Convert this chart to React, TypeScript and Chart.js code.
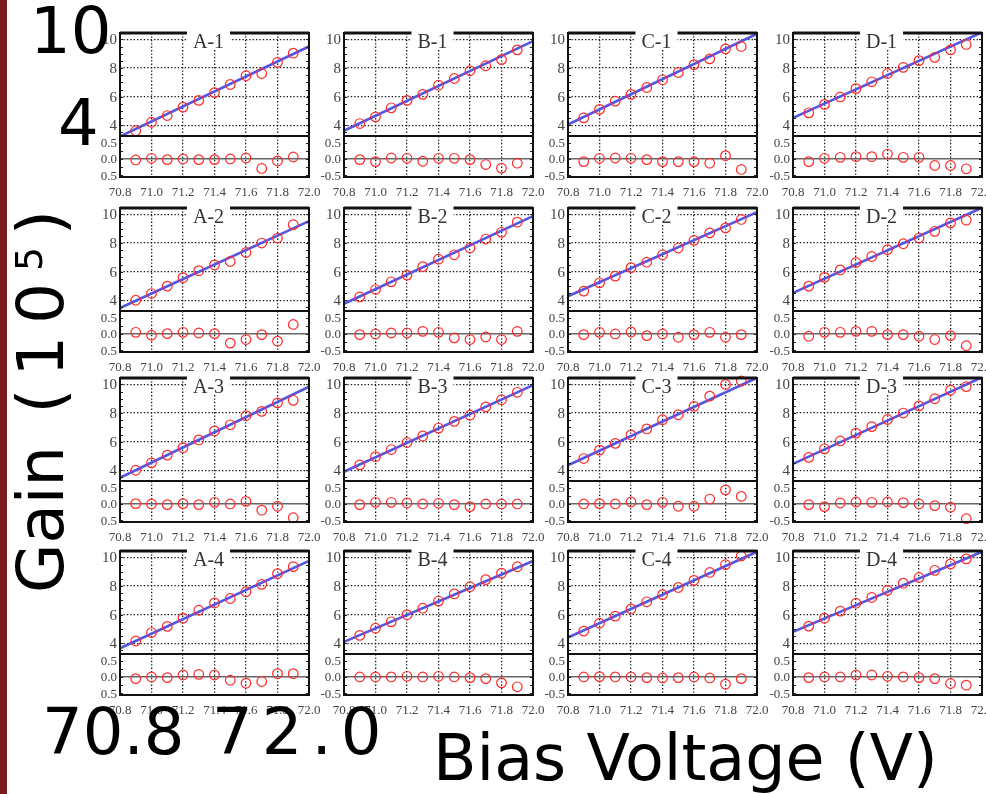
import React, { useEffect, useRef } from 'react';
import { Chart, registerables } from 'chart.js';

Chart.register(...registerables);

// ---------- data ----------
const VOLTAGES = [70.9, 71.0, 71.1, 71.2, 71.3, 71.4, 71.5, 71.6, 71.7, 71.8, 71.9];
const FIT_X = [70.8, 72.0];
const X_TICKS = [70.8, 71.0, 71.2, 71.4, 71.6, 71.8, 72.0];
const GAIN_TICKS = [4, 6, 8, 10];
const RESID_TICKS = [-0.5, 0.0, 0.5];
const GAIN_RANGE = [3.25, 10.45];
const RESID_RANGE = [-0.55, 0.7];
const PANEL_NAMES = ['A-1', 'B-1', 'C-1', 'D-1', 'A-2', 'B-2', 'C-2', 'D-2', 'A-3', 'B-3', 'C-3', 'D-3', 'A-4', 'B-4', 'C-4', 'D-4'];

const gainA1 = [3.62, 4.21, 4.68, 5.27, 5.74, 6.28, 6.85, 7.46, 7.62, 8.40, 9.04];
const residA1 = [-0.03, 0.02, -0.02, 0.0, -0.02, -0.02, 0.0, 0.03, -0.29, -0.06, 0.06];
const fitA1 = [3.22, 9.51];
const gainB1 = [4.12, 4.59, 5.22, 5.74, 6.16, 6.80, 7.27, 7.81, 8.16, 8.59, 9.27];
const residB1 = [-0.02, -0.08, 0.03, 0.02, -0.07, 0.02, 0.02, -0.02, -0.17, -0.28, -0.13];
const fitB1 = [3.62, 9.88];
const gainC1 = [4.52, 5.11, 5.69, 6.16, 6.64, 7.18, 7.69, 8.24, 8.64, 9.34, 9.51];
const residC1 = [-0.08, 0.02, 0.03, 0.02, -0.02, -0.08, -0.08, -0.08, -0.13, 0.10, -0.32];
const fitC1 = [4.05, 10.4];
const gainD1 = [4.87, 5.46, 5.98, 6.56, 7.04, 7.62, 8.05, 8.52, 8.75, 9.27, 9.65];
const residD1 = [-0.08, 0.02, 0.05, 0.07, 0.07, 0.15, 0.05, 0.05, -0.20, -0.20, -0.30];
const fitD1 = [4.52, 10.5];

const gainA2 = [4.0, 4.47, 4.99, 5.58, 6.07, 6.47, 6.71, 7.34, 8.0, 8.35, 9.29];
const residA2 = [0.05, -0.04, 0.01, 0.05, 0.03, 0.01, -0.28, -0.17, -0.02, -0.22, 0.29];
const fitA2 = [3.46, 9.53];
const gainB2 = [4.24, 4.75, 5.29, 5.76, 6.35, 6.87, 7.18, 7.65, 8.28, 8.75, 9.46];
const residB2 = [-0.02, 0.0, 0.03, 0.03, 0.08, 0.05, -0.12, -0.17, -0.09, -0.17, 0.08];
const fitB2 = [3.76, 9.88];
const gainC2 = [4.64, 5.22, 5.69, 6.28, 6.66, 7.18, 7.65, 8.19, 8.71, 9.06, 9.65];
const residC2 = [-0.02, 0.05, 0.0, 0.06, -0.05, 0.0, -0.10, -0.02, 0.05, -0.10, -0.02];
const fitC2 = [4.28, 10.16];
const gainD2 = [4.99, 5.6, 6.12, 6.64, 7.06, 7.53, 7.95, 8.35, 8.82, 9.41, 9.6];
const residD2 = [-0.07, 0.05, 0.05, 0.08, 0.08, -0.02, -0.02, -0.07, -0.17, -0.05, -0.36];
const fitD2 = [4.52, 10.47];

const gainA3 = [4.0, 4.52, 5.06, 5.58, 6.12, 6.75, 7.18, 7.81, 8.12, 8.71, 8.89];
const residA3 = [0.01, 0.0, -0.02, 0.01, -0.02, 0.05, 0.0, 0.08, -0.19, -0.07, -0.42];
const fitA3 = [3.48, 9.84];
const gainB3 = [4.38, 4.95, 5.45, 5.94, 6.4, 6.95, 7.42, 7.85, 8.43, 8.93, 9.45];
const residB3 = [-0.02, 0.05, 0.05, 0.03, 0.0, 0.02, -0.02, -0.08, 0.0, 0.0, 0.0];
const fitB3 = [3.9, 9.95];
const gainC3 = [4.82, 5.41, 5.88, 6.47, 6.89, 7.53, 7.88, 8.47, 9.18, 10.0, 10.24];
const residC3 = [0.0, 0.01, 0.0, 0.06, -0.02, 0.05, -0.07, -0.07, 0.15, 0.43, 0.23];
const fitC3 = [4.35, 10.47];
const gainD3 = [4.9, 5.5, 6.05, 6.6, 7.05, 7.55, 8.0, 8.5, 9.0, 9.6, 9.85];
const residD3 = [-0.02, -0.08, 0.03, 0.06, 0.05, 0.06, 0.04, 0.0, -0.05, -0.1, -0.45];
const fitD3 = [4.45, 10.5];

const gainA4 = [4.16, 4.75, 5.18, 5.76, 6.31, 6.82, 7.13, 7.6, 8.12, 8.87, 9.36];
const residA4 = [-0.05, 0.0, -0.02, 0.06, 0.08, 0.06, -0.10, -0.19, -0.14, 0.10, 0.10];
const fitA4 = [3.65, 9.76];
const gainB4 = [4.55, 5.05, 5.5, 6.0, 6.45, 6.95, 7.45, 7.95, 8.45, 8.9, 9.35];
const residB4 = [0.0, 0.0, 0.0, 0.02, 0.0, 0.02, 0.0, -0.02, -0.05, -0.18, -0.3];
const fitB4 = [4.1, 9.75];
const gainC4 = [4.85, 5.4, 5.9, 6.4, 6.9, 7.4, 7.9, 8.4, 8.95, 9.5, 10.1];
const residC4 = [0.0, 0.01, 0.0, 0.0, -0.02, -0.03, -0.02, 0.0, -0.03, -0.22, -0.05];
const fitC4 = [4.4, 10.4];
const gainD4 = [5.2, 5.75, 6.25, 6.8, 7.2, 7.7, 8.2, 8.6, 9.1, 9.55, 9.9];
const residD4 = [-0.02, 0.0, 0.0, 0.06, 0.06, 0.02, 0.0, -0.02, -0.05, -0.2, -0.25];
const fitD4 = [4.8, 10.4];

const GAINS = [gainA1, gainB1, gainC1, gainD1, gainA2, gainB2, gainC2, gainD2, gainA3, gainB3, gainC3, gainD3, gainA4, gainB4, gainC4, gainD4];
const RESIDS = [residA1, residB1, residC1, residD1, residA2, residB2, residC2, residD2, residA3, residB3, residC3, residD3, residA4, residB4, residC4, residD4];
const FITS = [fitA1, fitB1, fitC1, fitD1, fitA2, fitB2, fitC2, fitD2, fitA3, fitB3, fitC3, fitD3, fitA4, fitB4, fitC4, fitD4];

// ---------- layout / style ----------
const COL_LEFT = [120, 344, 568, 793];
const ROW_TOP = [33, 208, 378, 551];
const PLOT_W = 189;
const UPPER_H = 103;
const LOWER_H = 41;
const AXIS_W = 40;
const PAD_R = 16;
const UP_PAD_T = 12;
const LO_PAD_T = 4;
const X_AXIS_H = 28;
const SERIF = '"Liberation Serif", "Times New Roman", serif';
const SANS = '"DejaVu Sans", Verdana, sans-serif';
const RED = '#ff2a2a';
const BLUE = '#5555e4';
const DOT = '#1a1a1a';
const LABEL = '#444';

type FrameOpts = {
  title: string | null;
  yTicks: number[];
  yFmt: (v: number) => string;
  yFont: number;
  xLabels: boolean;
  minorStep: number;
};

function framePlugin(o: FrameOpts) {
  return {
    id: 'frame',
    afterDraw(chart: any) {
      const { ctx, chartArea: a } = chart;
      const ys = chart.scales.y;
      const xs = chart.scales.x;
      ctx.save();
      // minor ticks
      ctx.strokeStyle = '#222';
      ctx.lineWidth = 1;
      const start = Math.ceil(ys.min / o.minorStep) * o.minorStep;
      for (let v = start; v <= ys.max + 1e-9; v += o.minorStep) {
        const py = Math.round(ys.getPixelForValue(v)) + 0.5;
        ctx.beginPath();
        ctx.moveTo(a.left, py); ctx.lineTo(a.left + 3, py);
        ctx.moveTo(a.right, py); ctx.lineTo(a.right - 3, py);
        ctx.stroke();
      }
      // frame
      ctx.strokeStyle = '#111';
      ctx.lineWidth = 2;
      ctx.strokeRect(a.left, a.top, a.right - a.left, a.bottom - a.top);
      // y tick labels
      ctx.fillStyle = LABEL;
      ctx.font = `${o.yFont}px ${SERIF}`;
      ctx.textAlign = 'right';
      ctx.textBaseline = 'middle';
      for (const v of o.yTicks) {
        ctx.fillText(o.yFmt(v), a.left - 3, ys.getPixelForValue(v) + 1);
      }
      // x tick labels
      if (o.xLabels) {
        ctx.font = `13px ${SERIF}`;
        ctx.textAlign = 'center';
        ctx.textBaseline = 'top';
        for (const v of X_TICKS) {
          ctx.fillText(v.toFixed(1), xs.getPixelForValue(v), a.bottom + 9);
        }
      }
      // title
      if (o.title) {
        ctx.strokeStyle = '#111';
        ctx.lineWidth = 3;
        ctx.beginPath();
        ctx.moveTo(a.left, a.top); ctx.lineTo(a.right, a.top);
        ctx.stroke();
        ctx.font = `20px ${SERIF}`;
        const tw = ctx.measureText(o.title).width;
        const cx = (a.left + a.right) / 2 - 6;
        ctx.fillStyle = '#ffffff';
        ctx.fillRect(cx - tw / 2 - 6, a.top - 4, tw + 12, 21);
        ctx.fillStyle = '#333';
        ctx.textAlign = 'center';
        ctx.textBaseline = 'alphabetic';
        ctx.fillText(o.title, cx, a.top + 15);
      }
      ctx.restore();
    },
  };
}

function xScale() {
  return {
    type: 'linear',
    min: FIT_X[0],
    max: FIT_X[1],
    afterBuildTicks: (s: any) => { s.ticks = X_TICKS.map((v) => ({ value: v })); },
    afterFit: (s: any) => { s.height = 0; },
    ticks: { display: false },
    grid: { color: DOT, lineWidth: 1.3, drawTicks: false },
    border: { display: false, dash: [1.4, 2] },
  };
}

function baseOptions(padTop: number, padBottom: number) {
  return {
    animation: false,
    responsive: false,
    devicePixelRatio: 1,
    events: [],
    layout: { autoPadding: false, padding: { top: padTop, right: PAD_R, left: AXIS_W, bottom: padBottom } },
    plugins: { legend: { display: false }, tooltip: { enabled: false } },
  };
}

function Panel({ idx }: { idx: number }) {
  const upRef = useRef<HTMLCanvasElement>(null);
  const loRef = useRef<HTMLCanvasElement>(null);
  const col = idx % 4;
  const row = Math.floor(idx / 4);
  const left = COL_LEFT[col];
  const top = ROW_TOP[row];
  const W = AXIS_W + PLOT_W + PAD_R;
  const UH = UP_PAD_T + UPPER_H;
  const LH = LO_PAD_T + LOWER_H + X_AXIS_H;

  useEffect(() => {
    const gain = GAINS[idx];
    const resid = RESIDS[idx];
    const fit = FITS[idx];
    const pointStyle = {
      pointRadius: 4.8,
      pointBorderWidth: 1.2,
      pointBorderColor: RED,
      pointBackgroundColor: 'rgba(0,0,0,0)',
      showLine: false,
    };
    const up = new Chart(upRef.current as HTMLCanvasElement, {
      type: 'scatter',
      data: {
        datasets: [
          { data: VOLTAGES.map((x, i) => ({ x, y: gain[i] })), ...pointStyle, clip: false } as any,
          { data: FIT_X.map((x, i) => ({ x, y: fit[i] })), showLine: true, borderColor: BLUE, borderWidth: 2.6, pointRadius: 0, clip: 0 } as any,
        ],
      },
      options: {
        ...baseOptions(UP_PAD_T, 0),
        scales: {
          x: xScale() as any,
          y: {
            type: 'linear',
            min: GAIN_RANGE[0],
            max: GAIN_RANGE[1],
            afterBuildTicks: (s: any) => { s.ticks = GAIN_TICKS.map((v) => ({ value: v })); },
            afterFit: (s: any) => { s.width = 0; },
            ticks: { display: false },
            grid: { color: DOT, lineWidth: 1.3, drawTicks: false },
            border: { display: false, dash: [1.4, 2] },
          },
        },
      },
      plugins: [framePlugin({ title: PANEL_NAMES[idx], yTicks: GAIN_TICKS, yFmt: (v) => String(v), yFont: 15, xLabels: false, minorStep: 0.5 })],
    } as any);
    const lo = new Chart(loRef.current as HTMLCanvasElement, {
      type: 'scatter',
      data: {
        datasets: [
          { data: VOLTAGES.map((x, i) => ({ x, y: resid[i] })), ...pointStyle, clip: false } as any,
        ],
      },
      options: {
        ...baseOptions(LO_PAD_T, X_AXIS_H),
        scales: {
          x: xScale() as any,
          y: {
            type: 'linear',
            min: RESID_RANGE[0],
            max: RESID_RANGE[1],
            afterBuildTicks: (s: any) => { s.ticks = RESID_TICKS.map((v) => ({ value: v })); },
            afterFit: (s: any) => { s.width = 0; },
            ticks: { display: false },
            grid: {
              color: (c: any) => (c.tick && Math.abs(c.tick.value) < 1e-9 ? '#666' : 'rgba(0,0,0,0)'),
              lineWidth: 1.6,
              drawTicks: false,
            },
            border: { display: false },
          },
        },
      },
      plugins: [framePlugin({ title: null, yTicks: RESID_TICKS, yFmt: (v) => v.toFixed(1), yFont: 13, xLabels: true, minorStep: 0.25 })],
    } as any);
    return () => { up.destroy(); lo.destroy(); };
  }, [idx]);

  return (
    <>
      <canvas
        ref={upRef}
        width={W}
        height={UH}
        style={{ position: 'absolute', left: left - AXIS_W, top: top - UP_PAD_T, width: W, height: UH }}
      />
      <canvas
        ref={loRef}
        width={W}
        height={LH}
        style={{ position: 'absolute', left: left - AXIS_W, top: top + UPPER_H - LO_PAD_T, width: W, height: LH }}
      />
    </>
  );
}

const bigText: React.CSSProperties = {
  position: 'absolute',
  fontFamily: SANS,
  fontSize: 64,
  lineHeight: '64px',
  color: '#000',
  whiteSpace: 'nowrap',
};

export default function App() {
  return (
    <div
      style={{
        position: 'absolute',
        left: 0,
        top: 0,
        width: 986,
        height: 794,
        overflow: 'hidden',
        background: '#ffffff',
      }}
    >
      {PANEL_NAMES.map((_, i) => (
        <Panel key={i} idx={i} />
      ))}
      <div style={{ position: 'absolute', left: 0, top: 0, width: 7, height: 794, background: '#7b1c20' }} />
      <div style={{ position: 'absolute', left: 7, top: 0, width: 94, height: 794, background: '#ffffff' }} />
      <div style={{ ...bigText, left: 30, top: -1 }}>10</div>
      <div style={{ ...bigText, left: 58, top: 91 }}>4</div>
      <div
        style={{
          ...bigText,
          left: 9,
          top: 593,
          transform: 'rotate(-90deg)',
          transformOrigin: '0 0',
        }}
      >
        Gain<span style={{ letterSpacing: 12 }}> (10<span style={{ fontSize: 38, position: 'relative', top: -21 }}>5</span>)</span>
      </div>
      <div style={{ ...bigText, left: 42, top: 700 }}>70.8</div>
      <div style={{ ...bigText, left: 212, top: 700, letterSpacing: 9 }}>72.0</div>
      <div style={{ ...bigText, left: 433, top: 726, fontSize: 63.5 }}>Bias Voltage (V)</div>
    </div>
  );
}
